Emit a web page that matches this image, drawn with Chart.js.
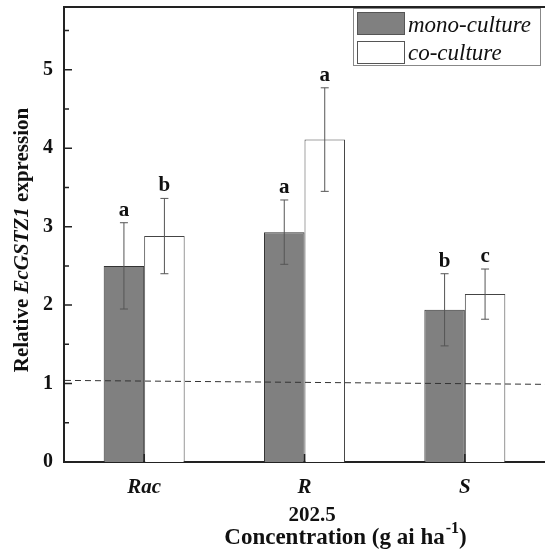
<!DOCTYPE html>
<html>
<head>
<meta charset="utf-8">
<script src="https://cdn.jsdelivr.net/npm/chart.js@4"></script>
<style>
  html, body { margin: 0; padding: 0; background: #fff; overflow: hidden; }
  #wrap { width: 545px; height: 550px; }
</style>
</head>
<body>
<div id="wrap"><canvas id="chart"></canvas></div>
<script>
const categories = ['Rac', 'R', 'S'];
const monoValues = [2.50, 2.93, 1.94];
const monoErrors = [0.55, 0.41, 0.46];
const monoLetters = ['a', 'a', 'b'];
const coValues = [2.88, 4.11, 2.14];
const coErrors = [0.48, 0.66, 0.32];
const coLetters = ['b', 'a', 'c'];
const yTicks = [0, 1, 2, 3, 4, 5];
const yMinorTicks = [0.5, 1.5, 2.5, 3.5, 4.5, 5.5];
const refLine = [1.04, 0.99]; // dashed reference, left end / right end

const SERIF = '"Liberation Serif", "Times New Roman", serif';

// dashed reference line, error bars, significance letters
const errorBars = {
  id: 'errorBars',
  afterDatasetsDraw(chart) {
    const ctx = chart.ctx;
    const a = chart.chartArea;
    const y = chart.scales.y;
    [[0, monoValues, monoErrors, monoLetters], [1, coValues, coErrors, coLetters]].forEach(([idx, vals, errs, letters]) => {
      const meta = chart.getDatasetMeta(idx);
      meta.data.forEach((bar, i) => {
        const top = y.getPixelForValue(vals[i] + errs[i]);
        const bot = y.getPixelForValue(vals[i] - errs[i]);
        ctx.save();
        ctx.strokeStyle = '#555';
        ctx.lineWidth = 1;
        ctx.beginPath();
        ctx.moveTo(bar.x, top); ctx.lineTo(bar.x, bot);
        ctx.moveTo(bar.x - 4, top); ctx.lineTo(bar.x + 4, top);
        ctx.moveTo(bar.x - 4, bot); ctx.lineTo(bar.x + 4, bot);
        ctx.stroke();
        ctx.fillStyle = '#111';
        ctx.font = 'bold 21px ' + SERIF;
        ctx.textAlign = 'center';
        ctx.textBaseline = 'alphabetic';
        ctx.fillText(letters[i], bar.x, top - 7);
        ctx.restore();
      });
    });
    ctx.save();
    ctx.strokeStyle = '#333';
    ctx.lineWidth = 1;
    ctx.setLineDash([6, 4]);
    ctx.beginPath();
    ctx.moveTo(a.left + 1, y.getPixelForValue(refLine[0]));
    ctx.lineTo(a.right, y.getPixelForValue(refLine[1]));
    ctx.stroke();
    ctx.restore();
  }
};

// frame, inward ticks, axis titles, legend
const decor = {
  id: 'decor',
  afterDraw(chart) {
    const ctx = chart.ctx;
    const a = chart.chartArea;
    const x = chart.scales.x;
    const y = chart.scales.y;
    ctx.save();
    ctx.strokeStyle = '#222';
    ctx.lineWidth = 2;
    ctx.beginPath();
    ctx.moveTo(a.left, a.top); ctx.lineTo(a.right, a.top);
    ctx.stroke();

    ctx.lineWidth = 1.5;
    ctx.beginPath();
    yTicks.forEach(v => { const p = y.getPixelForValue(v); ctx.moveTo(a.left, p); ctx.lineTo(a.left + 8, p); });
    yMinorTicks.forEach(v => { const p = y.getPixelForValue(v); ctx.moveTo(a.left, p); ctx.lineTo(a.left + 5, p); });
    categories.forEach((c, i) => { const p = x.getPixelForValue(i); ctx.moveTo(p, a.bottom); ctx.lineTo(p, a.bottom - 8); });
    ctx.stroke();

    // y title with italic gene name
    const parts = [['Relative ', 'bold'], ['EcGSTZ1', 'italic bold'], [' expression', 'bold']];
    ctx.fillStyle = '#111';
    ctx.textBaseline = 'alphabetic';
    ctx.textAlign = 'left';
    let total = 0;
    parts.forEach(p => { ctx.font = p[1] + ' 21px ' + SERIF; total += ctx.measureText(p[0]).width; });
    ctx.translate(28, 240);
    ctx.rotate(-Math.PI / 2);
    let cx = -total / 2;
    parts.forEach(p => { ctx.font = p[1] + ' 21px ' + SERIF; ctx.fillText(p[0], cx, 0); cx += ctx.measureText(p[0]).width; });
    ctx.setTransform(1, 0, 0, 1, 0, 0);

    // x title
    ctx.font = 'bold 21px ' + SERIF;
    ctx.textAlign = 'center';
    ctx.fillText('202.5', 312, 521);
    ctx.textAlign = 'left';
    const main = 'Concentration (g ai ha';
    const sup = '-1';
    ctx.font = 'bold 23px ' + SERIF;
    const wMain = ctx.measureText(main).width;
    const wClose = ctx.measureText(')').width;
    ctx.font = 'bold 16px ' + SERIF;
    const wSup = ctx.measureText(sup).width;
    let sx = 345 - (wMain + wSup + wClose) / 2;
    ctx.font = 'bold 23px ' + SERIF;
    ctx.fillText(main, sx, 544);
    ctx.font = 'bold 16px ' + SERIF;
    ctx.fillText(sup, sx + wMain + 1, 533);
    ctx.font = 'bold 23px ' + SERIF;
    ctx.fillText(')', sx + wMain + wSup + 1, 544);

    // legend
    ctx.strokeStyle = '#888';
    ctx.lineWidth = 1;
    ctx.strokeRect(353.5, 8.5, 187, 57);
    const ds = chart.data.datasets;
    [[0, 12, 32], [1, 41, 60]].forEach(([idx, top, base]) => {
      ctx.fillStyle = ds[idx].backgroundColor;
      ctx.fillRect(357, top, 47, 22);
      ctx.strokeStyle = '#555';
      ctx.strokeRect(357.5, top + 0.5, 47, 22);
      ctx.fillStyle = '#111';
      ctx.font = 'italic 23px ' + SERIF;
      ctx.fillText(ds[idx].label, 408, base);
    });
    ctx.restore();
  }
};

new Chart(document.getElementById('chart'), {
  type: 'bar',
  data: {
    labels: categories,
    datasets: [
      {
        label: 'mono-culture',
        data: monoValues,
        backgroundColor: '#808080',
        borderColor: '#333',
        borderWidth: 1,
        categoryPercentage: 0.505,
        barPercentage: 1
      },
      {
        label: 'co-culture',
        data: coValues,
        backgroundColor: '#ffffff',
        borderColor: '#444',
        borderWidth: 1,
        categoryPercentage: 0.505,
        barPercentage: 1
      }
    ]
  },
  options: {
    responsive: true,
    maintainAspectRatio: false,
    animation: false,
    layout: { padding: { top: 7, left: 0, right: 0, bottom: 0 } },
    plugins: { legend: { display: false }, tooltip: { enabled: false } },
    scales: {
      x: {
        grid: { display: false, drawTicks: false },
        border: { display: true, color: '#222', width: 2 },
        ticks: { color: '#111', font: { family: SERIF, size: 21, weight: 'bold', style: 'italic' }, padding: 13 },
        afterFit(scale) { scale.height = 88; scale.paddingLeft = 0; scale.paddingRight = 0; }
      },
      y: {
        min: 0,
        max: 5.8,
        grid: { display: false, drawTicks: false },
        border: { display: true, color: '#222', width: 2 },
        afterBuildTicks(scale) { scale.ticks = yTicks.map(v => ({ value: v })); },
        ticks: { color: '#111', font: { family: SERIF, size: 20, weight: 'bold' }, padding: 11 },
        afterFit(scale) { scale.width = 64; scale.paddingTop = 0; scale.paddingBottom = 0; }
      }
    }
  },
  plugins: [errorBars, decor]
});
</script>
</body>
</html>
